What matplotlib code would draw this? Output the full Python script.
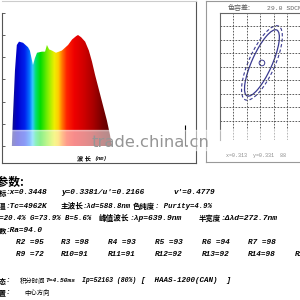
import numpy as np
import matplotlib
matplotlib.use('Agg')
import matplotlib.pyplot as plt
from matplotlib.colors import LinearSegmentedColormap
from matplotlib.patches import Ellipse, Rectangle

# spectrum (nm, relative intensity)
wavelength = [427, 430, 437, 443, 450, 463, 479, 485, 492, 495, 501, 508, 524, 534, 540,
              547, 556, 569, 588, 608, 621, 634, 640, 650, 663, 675, 685, 695, 708, 720,
              733, 743, 749]
intensity = [0.0, 0.23, 0.68, 0.91, 0.94, 0.93, 0.89, 0.86, 0.77, 0.73, 0.79, 0.84, 0.85, 0.85, 0.91,
             0.87, 0.86, 0.84, 0.86, 0.91, 0.96, 0.99, 1.0, 0.98, 0.94, 0.86, 0.76, 0.64, 0.50, 0.37,
             0.23, 0.10, 0.0]
spike_nm = 985
spike_val = 0.19
y_ticks = [0.0, 0.2, 0.4, 0.6, 0.8, 1.0, 1.2]

# colour tolerance ellipse (grid units)
ell_center = (3.13, 5.3)
ell_inner = (5.36, 1.5)
ell_outer = (6.0, 1.95)
ell_angle = 65.6

# R values
r_row1 = ['R2 =95', 'R3 =98', 'R4 =93', 'R5 =93', 'R6 =94', 'R7 =98']
r_row2 = ['R9 =72', 'R10=91', 'R11=91', 'R12=92', 'R13=92', 'R14=98', 'R15=97']

W = 300.0
CJK = ['Noto Sans CJK SC', 'DejaVu Sans']
MONO = ['Liberation Mono', 'DejaVu Sans Mono']

fig = plt.figure(figsize=(3, 3), dpi=100)
fig.patch.set_facecolor('white')

def box(x0, y0, x1, y1):
    return [x0 / W, 1 - y1 / W, (x1 - x0) / W, (y1 - y0) / W]

def put(x, y, s, fam=MONO, size=5.6, ha='left', **kw):
    fig.text(x / W, 1 - y / W, s, family=fam, fontsize=size, ha=ha, va='center', **kw)

def num(x, y, s, size=5.6, **kw):
    put(x, y, s, size=size, weight='bold', style='italic', **kw)

def han(x, y, s, size=5.3, **kw):
    put(x, y, s, fam=CJK, size=size, **kw)

# ---------------- spectrum panel ----------------
ax = fig.add_axes(box(2, 1, 196, 163))
nm_per_px = 3.22
ax.set_xlim(450 - 17 * nm_per_px, 450 + 177 * nm_per_px)
ax.set_ylim(-17 / 111.0, 145 / 111.0)
nodes = [(400, '#1a0066'), (430, '#10108a'), (445, '#0000cc'), (470, '#0022ee'), (485, '#0070ff'),
         (495, '#33c8ff'), (505, '#00e070'), (520, '#00dd00'), (545, '#88ee00'), (565, '#eeee00'),
         (578, '#ffcc00'), (590, '#ff7700'), (605, '#ff2200'), (630, '#ee0000'), (660, '#d00000'),
         (690, '#aa0000'), (720, '#770000'), (760, '#4a0000')]
lo, hi = nodes[0][0], nodes[-1][0]
cmap = LinearSegmentedColormap.from_list('spec', [((n - lo) / (hi - lo), c) for n, c in nodes])
grad = np.linspace(0, 1, 512)[None, :]
im = ax.imshow(grad, cmap=cmap, aspect='auto', extent=[lo, hi, 0, 1.05], zorder=2)
poly = ax.fill_between(wavelength, intensity, color='none', lw=0)
im.set_clip_path(poly.get_paths()[0], transform=ax.transData)
ax.vlines(spike_nm, 0, spike_val, color='black', lw=0.8, zorder=3)
ax.set_yticks(y_ticks)
ax.set_yticklabels([])
ax.set_xticks([])
ax.tick_params(axis='y', direction='in', length=2, width=0.6, color='#444444')
for s in ['left', 'bottom', 'right']:
    ax.spines[s].set_color('#555555')
    ax.spines[s].set_linewidth(0.8)
ax.spines['left'].set_bounds(ax.get_ylim()[0], 1.2)
ax.spines['top'].set_color('#cccccc')

# watermark band
fig.patches.append(Rectangle((10 / W, 1 - 150 / W), 290 / W, 20 / W, transform=fig.transFigure,
                             color='white', alpha=0.55, zorder=5))
fig.text(150 / W, 1 - 142 / W, 'trade.china.cn', fontsize=11.8, color='#959595', ha='center',
         va='center', family='DejaVu Sans', zorder=6)

han(77, 158, '波 长', size=4.5, weight='bold')
num(94, 158.5, '(nm)', size=3.8)

# ---------------- tolerance panel ----------------
ax2 = fig.add_axes(box(206, 1, 310, 162))
ax2.set_xticks([])
ax2.set_yticks([])
for s in ax2.spines.values():
    s.set_color('#999999')
    s.set_linewidth(0.8)

ax3 = fig.add_axes(box(220, 13, 300, 140.5))
ax3.set_xlim(0, 80 / 13.4)
ax3.set_ylim(-6 / 13.5, 9.0)
ax3.set_xticks(range(1, 6))
ax3.set_yticks(range(1, 9))
ax3.set_xticklabels([])
ax3.set_yticklabels([])
ax3.tick_params(length=0)
ax3.grid(True, color='#444444', ls=(0, (2, 1.6)), lw=0.6)
ax3.patch.set_alpha(0)
ax3.spines['right'].set_visible(False)
ax3.spines['bottom'].set_visible(False)
ax3.spines['left'].set_color('#666666')
ax3.spines['top'].set_color('#666666')
ax3.add_patch(Ellipse(ell_center, ell_inner[0], ell_inner[1], angle=ell_angle, fill=False,
                      ec='#3a3a90', lw=0.9))
ax3.add_patch(Ellipse(ell_center, ell_outer[0], ell_outer[1], angle=ell_angle, fill=False,
                      ec='#3a3a90', lw=0.8, ls=(0, (3, 2))))
ax3.add_patch(Ellipse(ell_center, 0.42, 0.42, fill=False, ec='#3a3a90', lw=0.7))

han(228, 8, '色容差:', size=5, color='#555555')
put(267, 8, '29.0 SDCM', size=4.6, color='#666666')
put(226, 155, 'x=0.313  y=0.331  88', size=3.6, color='#888888')

# ---------------- parameter text ----------------
han(25, 182, '测试参数:', size=8.5, ha='right', weight='bold')

han(7, 193, '色品坐标', ha='right', weight='bold')
num(6, 193, ':x=0.3448')
num(61, 193, "y=0.3381/u'=0.2166")
num(173, 193, "v'=0.4779")

han(7, 206, '色温', ha='right', weight='bold')
num(6, 206, ':Tc=4962K')
han(61, 206, '主波长', size=5.5, weight='bold')
num(83, 206, ':λd=588.8nm', size=5.2)
han(133, 206, '色纯度', weight='bold')
num(155, 206, ': Purity=4.9%', size=5.2)

num(-5, 218, 'R=20.4% G=73.9% B=5.6%', size=5.2)
han(99, 218, '峰值波长', size=5.5, weight='bold')
num(130, 218, ':λp=639.9nm', size=5.8)
han(199, 218, '半宽度', weight='bold')
num(221, 218, ':Δλd=272.7nm', size=5.8)

han(7, 231, '显色指数', ha='right', weight='bold')
num(6, 231, ':Ra=94.0')

r_x = [16, 61, 108, 155, 202, 248, 295]
for x, s in zip(r_x, r_row1):
    num(x, 243, s)
for x, s in zip(r_x, r_row2):
    num(x, 255, s)

han(7, 281, '测试状态', size=5, ha='right', weight='bold')
num(6, 281, ':')
han(20, 281, '积分时间', size=4.6)
num(45, 281, 'T=4.50ms', size=4.5)
num(82, 281, 'Ip=52163 (80%)', size=4.7)
num(141, 281, '[  HAAS-1200(CAN)  ]', size=5.4)

han(7, 293, '安装位置', size=5, ha='right', weight='bold')
num(6, 293, ':')
han(24, 293, '中心方向', size=4.6)

fig.savefig('out.png', dpi=100, facecolor='white')
